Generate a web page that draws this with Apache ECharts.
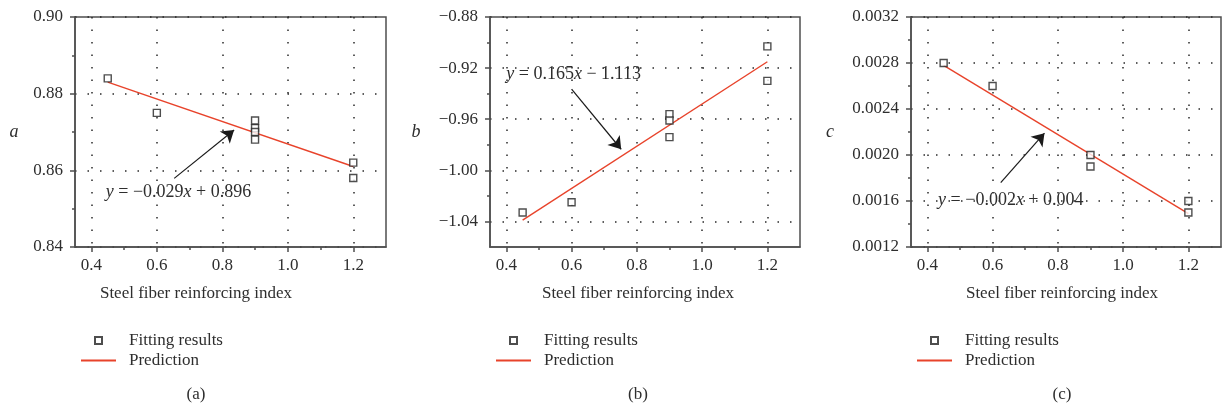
<!DOCTYPE html>
<html>
<head>
<meta charset="utf-8">
<script src="https://cdn.jsdelivr.net/npm/echarts@6/dist/echarts.min.js"></script>
<style>
  html, body { margin: 0; padding: 0; background: #fff; }
  #chart { width: 1226px; height: 413px; }
</style>
</head>
<body>
<div id="chart"></div>
<script>
// shared x axis
const xTicks = [0.4, 0.6, 0.8, 1.0, 1.2];
const xMinorTicks = [0.5, 0.7, 0.9, 1.1];

// (a)
const aFitX = [0.45, 0.6, 0.9, 0.9, 0.9, 0.9, 1.2, 1.2];
const aFitY = [0.884, 0.875, 0.873, 0.871, 0.870, 0.868, 0.862, 0.858];
const aLineX = [0.45, 1.2];
const aLineY = [0.883, 0.861];
const aYTicks = [0.84, 0.86, 0.88, 0.90];
const aYMinorTicks = [0.85, 0.87, 0.89];
const aArrow = [[0.653, 0.8579], [0.836, 0.8705]];
const aEqAt = [0.444, 0.8544];

// (b)
const bFitX = [0.45, 0.6, 0.9, 0.9, 0.9, 1.2, 1.2];
const bFitY = [-1.033, -1.025, -0.956, -0.961, -0.974, -0.903, -0.930];
const bLineX = [0.45, 1.2];
const bLineY = [-1.039, -0.915];
const bYTicks = [-1.04, -1.00, -0.96, -0.92, -0.88];
const bYMinorTicks = [-1.02, -0.98, -0.94, -0.90];
const bArrow = [[0.60, -0.9364], [0.752, -0.9835]];
const bEqAt = [0.40, -0.9252];

// (c)
const cFitX = [0.45, 0.6, 0.9, 0.9, 1.2, 1.2];
const cFitY = [0.0028, 0.0026, 0.0020, 0.0019, 0.0016, 0.0015];
const cLineX = [0.45, 1.2];
const cLineY = [0.00278, 0.00149];
const cYTicks = [0.0012, 0.0016, 0.0020, 0.0024, 0.0028, 0.0032];
const cYMinorTicks = [0.0014, 0.0018, 0.0022, 0.0026, 0.0030];
const cArrow = [[0.625, 0.00176], [0.759, 0.00219]];
const cEqAt = [0.433, 0.00161];

const FONT = '"Liberation Serif", "DejaVu Serif", serif';
const TEXT = '#2e2e2e';
const AXIS = '#4f4f4f';
const RED = '#e8432b';

const fmt = (v, d) => v.toFixed(d).replace('-', '\u2212');

const panels = [
  {
    left: 75, width: 311, yMin: 0.84, yMax: 0.90, dec: 2,
    fitX: aFitX, fitY: aFitY, lineX: aLineX, lineY: aLineY,
    yTicks: aYTicks, yMinor: aYMinorTicks, arrow: aArrow, eqAt: aEqAt,
    eq: '{i|y} = \u22120.029{i|x} + 0.896',
    yName: 'a', nameX: 14, centerX: 196, caption: '(a)'
  },
  {
    left: 490, width: 310, yMin: -1.06, yMax: -0.88, dec: 2,
    fitX: bFitX, fitY: bFitY, lineX: bLineX, lineY: bLineY,
    yTicks: bYTicks, yMinor: bYMinorTicks, arrow: bArrow, eqAt: bEqAt,
    eq: '{i|y} = 0.165{i|x} \u2212 1.113',
    yName: 'b', nameX: 416, centerX: 638, caption: '(b)'
  },
  {
    left: 911, width: 310, yMin: 0.0012, yMax: 0.0032, dec: 4,
    fitX: cFitX, fitY: cFitY, lineX: cLineX, lineY: cLineY,
    yTicks: cYTicks, yMinor: cYMinorTicks, arrow: cArrow, eqAt: cEqAt,
    eq: '{i|y} = \u22120.002{i|x} + 0.004',
    yName: 'c', nameX: 830, centerX: 1062, caption: '(c)'
  }
];

const dotted = { color: '#2a2a2a', width: 1.5, type: [1.5, 11] };
const legendText = { color: TEXT, fontFamily: FONT, fontSize: 17 };

const grid = [];
const xAxis = [];
const yAxis = [];
const series = [];
const legend = [];
const graphic = [];

panels.forEach((p, i) => {
  grid.push({
    left: p.left, top: 17, width: p.width, height: 230,
    show: true, borderColor: AXIS, borderWidth: 1.5,
    outerBoundsMode: 'none'
  });

  // main x axis: labels, major ticks, grid lines
  xAxis.push({
    type: 'value', gridIndex: i, min: 0.35, max: 1.3, position: 'bottom',
    axisLine: { show: true, onZero: false, lineStyle: { color: AXIS, width: 1.5 } },
    axisTick: { show: true, customValues: xTicks, length: 5, lineStyle: { color: AXIS, width: 1.5 } },
    axisLabel: {
      customValues: xTicks, margin: 10, color: TEXT, fontFamily: FONT, fontSize: 17,
      formatter: v => fmt(v, 1)
    },
    splitLine: { show: true, lineStyle: dotted }
  });
  // minor x ticks
  xAxis.push({
    type: 'value', gridIndex: i, min: 0.35, max: 1.3, position: 'bottom',
    axisLine: { show: false, onZero: false },
    axisTick: { show: true, customValues: xMinorTicks, length: 3, lineStyle: { color: AXIS, width: 1.5 } },
    axisLabel: { show: false },
    splitLine: { show: false }
  });

  yAxis.push({
    type: 'value', gridIndex: i, min: p.yMin, max: p.yMax, position: 'left',
    axisLine: { show: true, onZero: false, lineStyle: { color: AXIS, width: 1.5 } },
    axisTick: { show: true, customValues: p.yTicks, length: 5, lineStyle: { color: AXIS, width: 1.5 } },
    axisLabel: {
      customValues: p.yTicks, margin: 12, color: TEXT, fontFamily: FONT, fontSize: 17,
      formatter: v => fmt(v, p.dec)
    },
    splitLine: { show: true, lineStyle: dotted }
  });
  yAxis.push({
    type: 'value', gridIndex: i, min: p.yMin, max: p.yMax, position: 'left',
    axisLine: { show: false, onZero: false },
    axisTick: { show: true, customValues: p.yMinor, length: 3, lineStyle: { color: AXIS, width: 1.5 } },
    axisLabel: { show: false },
    splitLine: { show: false }
  });

  series.push({
    name: 'Fitting results',
    type: 'scatter',
    xAxisIndex: i * 2,
    yAxisIndex: i * 2,
    symbol: 'rect',
    symbolSize: 7,
    itemStyle: { color: '#fff', borderColor: '#222', borderWidth: 1.4 },
    data: p.fitX.map((x, k) => [x, p.fitY[k]]),
    z: 3
  });

  series.push({
    name: 'Prediction',
    type: 'line',
    xAxisIndex: i * 2,
    yAxisIndex: i * 2,
    symbol: 'none',
    lineStyle: { color: RED, width: 1.4 },
    itemStyle: { color: RED },
    data: p.lineX.map((x, k) => [x, p.lineY[k]]),
    markLine: {
      silent: true,
      symbol: ['none', 'arrow'],
      symbolSize: 12,
      label: { show: false },
      lineStyle: { color: '#1a1a1a', width: 1.2, type: 'solid' },
      emphasis: { disabled: true },
      data: [[{ coord: p.arrow[0] }, { coord: p.arrow[1] }]]
    },
    markPoint: {
      silent: true,
      symbolSize: 0,
      label: {
        show: true,
        position: 'right',
        distance: 0,
        formatter: p.eq,
        color: TEXT,
        fontFamily: FONT,
        fontSize: 18,
        rich: { i: { fontStyle: 'italic', fontFamily: FONT, fontSize: 18, color: TEXT } }
      },
      data: [{ coord: p.eqAt }]
    },
    z: 2
  });

  // one legend per item so each icon can have its own size
  legend.push(
    {
      left: p.left + 14,
      top: 327,
      itemWidth: 7,
      itemHeight: 7,
      selectedMode: false,
      data: ['Fitting results'],
      textStyle: Object.assign({ padding: [0, 0, 0, 22] }, legendText)
    },
    {
      left: p.left,
      top: 347,
      itemWidth: 35,
      itemHeight: 2,
      selectedMode: false,
      data: [{ name: 'Prediction', itemStyle: { opacity: 0 } }],
      textStyle: Object.assign({ padding: [0, 0, 0, 8] }, legendText)
    }
  );

  graphic.push(
    {
      type: 'text', x: p.nameX, y: 132,
      style: { text: p.yName, font: 'italic 18px ' + FONT, fill: TEXT, align: 'center', verticalAlign: 'middle' }
    },
    {
      type: 'text', x: p.centerX, y: 294,
      style: { text: 'Steel fiber reinforcing index', font: '17px ' + FONT, fill: TEXT, align: 'center', verticalAlign: 'middle' }
    },
    {
      type: 'text', x: p.centerX, y: 395,
      style: { text: p.caption, font: '17px ' + FONT, fill: TEXT, align: 'center', verticalAlign: 'middle' }
    }
  );
});

const chart = echarts.init(document.getElementById('chart'));
chart.setOption({
  animation: false,
  backgroundColor: '#fff',
  grid,
  xAxis,
  yAxis,
  legend,
  graphic,
  series
});
</script>
</body>
</html>
